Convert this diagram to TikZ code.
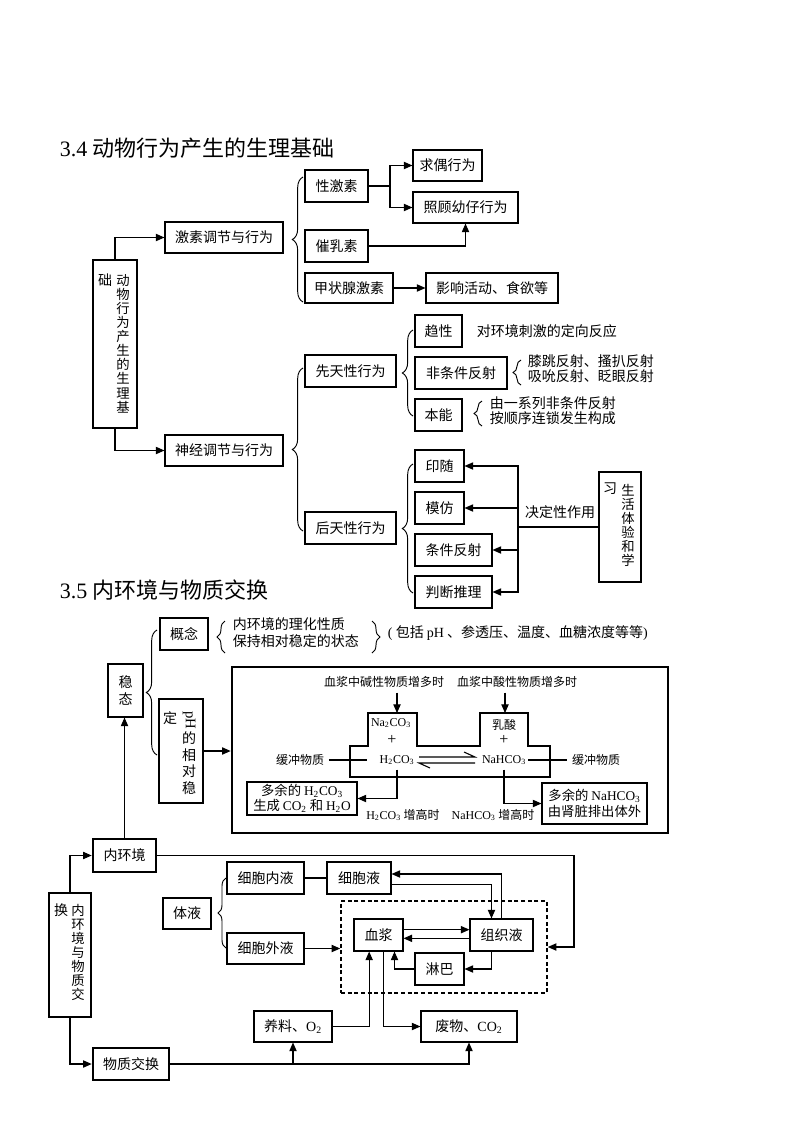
\documentclass[tikz,border=0pt]{standalone}
\usepackage{fontspec}
\setmainfont{Noto Sans CJK SC}
\newfontfamily\tnr{Liberation Serif}
\usepackage{tikz}
\usetikzlibrary{arrows.meta, decorations.pathreplacing}
\tikzset{
  font={\fontsize{10.5pt}{12pt}\selectfont},
  box/.style={draw, line width=0.8pt, inner sep=0pt, minimum height=24pt},
  tbox/.style={box, line width=2pt},
  dbox/.style={draw, line width=1.2pt, dash pattern=on 3pt off 2pt, inner sep=0pt},
  bw/.style={minimum width=#1*0.75pt},
  bh/.style={minimum height=#1*0.75pt},
  arr/.style={-{Triangle[length=6.5pt,width=5.5pt]}, line width=0.8pt},
  brc/.style={decorate, decoration={brace, amplitude=#1}, line width=0.7pt},
  brc/.default=7pt,
  sm/.style={font={\fontsize{9pt}{11pt}\selectfont}},
  vcol/.style={align=center, inner sep=0pt, font={\fontsize{10pt}{10.6pt}\selectfont}},
  ttl/.style={anchor=west, font={\fontsize{16.5pt}{18pt}\selectfont}},
}

\begin{document}
\begin{tikzpicture}[x=0.75pt, y=-0.75pt, line width=0.8pt]
\useasboundingbox (0,0) rectangle (800,1132);

% 3.4
\node[ttl] (t34) at (55,148) {{\tnr 3.4} 动物行为产生的生理基础};
\node[tbox, bw=44, bh=168] (dw) at (115,344) {};
\node at (105,280) {础};
\node[vcol] at (123,343.5) {动\\物\\行\\为\\产\\生\\的\\生\\理\\基};
\node[box, bw=118, bh=31] (jstj) at (224,237.5) {激素调节与行为};
\node[box, bw=118, bh=31] (sjtj) at (224,450.5) {神经调节与行为};
\draw[arr] (dw.north) |- (jstj.west);
\draw[arr] (dw.south) |- (sjtj.west);

% hormones
\node[box, bw=63] (xjs) at (336.5,186) {性激素};
\node[box, bw=63] (cns) at (336.5,246) {催乳素};
\node[box, bw=88, bh=30] (jzx) at (349,288) {甲状腺激素};
\node[box, bw=69, bh=31] (qo) at (447.5,165.5) {求偶行为};
\node[box, bw=105, bh=31] (zg) at (465.5,207.5) {照顾幼仔行为};
\node[box, bw=132, bh=30] (yx) at (492,288) {影响活动、食欲等};
\draw[brc=8pt] (303,302) -- (303,177);
\coordinate (xjsr) at (390,186);
\draw (xjs.east) -- (xjsr);
\draw[arr] (xjsr) |- (qo.west);
\draw[arr] (xjsr) |- (zg.west);
\draw[arr] (cns.east) -| (zg.south);
\draw[arr] (jzx) -- (yx);

% innate behaviour
\node[box, bw=91] (xt) at (350.5,371) {先天性行为};
\node[box, bw=91] (ht) at (350.5,528) {后天性行为};
\draw[brc=8pt] (303,531) -- (303,368);
\node[box, bw=47] (qx) at (438.5,331) {趋性};
\node[box, bw=92] (ftj) at (461,373) {非条件反射};
\node[box, bw=47] (bn) at (438.5,415) {本能};
\draw[brc=8pt] (413,416) -- (413,330);
\node[anchor=west] at (472,331) {对环境刺激的定向反应};
\draw[brc=6pt] (521,385) -- (521,360);
\node[anchor=west, align=left, font={\fontsize{10.5pt}{11.5pt}\selectfont}] at (523,369) {膝跳反射、搔扒反射\\吸吮反射、眨眼反射};
\draw[brc=6pt] (482,426) -- (482,401);
\node[anchor=west, align=left, font={\fontsize{10.5pt}{11.5pt}\selectfont}] at (485,411) {由一系列非条件反射\\按顺序连锁发生构成};

% acquired behaviour
\node[box, bw=49] (ys) at (439.5,466) {印随};
\node[box, bw=49] (mf) at (439.5,508) {模仿};
\node[box, bw=77] (tj) at (453.5,550) {条件反射};
\node[box, bw=77] (pd) at (453.5,592) {判断推理};
\draw[brc=8pt] (413,593) -- (413,464);
\node[box, bw=42, bh=110] (sh) at (620,527) {};
\node at (610,489) {习};
\node[vcol] at (628,525.5) {生\\活\\体\\验\\和\\学};
\coordinate (jd) at (518,527);
\draw (sh.west) -- (jd);
\draw[arr] (jd) |- (ys.east);
\draw[arr] (jd) |- (mf.east);
\draw[arr] (jd) |- (tj.east);
\draw[arr] (jd) |- (pd.east);
\node at (560,512) {决定性作用};

% 3.5
\node[ttl] (t35) at (55,590) {{\tnr 3.5} 内环境与物质交换};
\node[box, bw=48] (gn) at (184,634) {概念};
\draw[brc=6pt] (225,653) -- (225,621);
\node[anchor=west, align=left, font={\fontsize{10.5pt}{12.75pt}\selectfont}] (gnt) at (228,632.5) {内环境的理化性质\\保持相对稳定的状态};
\draw[brc=6pt] (372,621) -- (372,653);
\node[anchor=west] at (383,633) {{\tnr (} 包括 {\tnr pH} 、参透压、温度、血糖浓度等等{\tnr )}};
\node[box, bw=35, bh=53, align=center, font={\fontsize{10.5pt}{12.75pt}\selectfont}] (wt) at (125.5,690.5) {稳\\态};
\draw[brc=8pt] (157,755) -- (157,630);
\node[tbox, bw=44, bh=104] (ph) at (181,751) {};
\node at (170,718) {定};
\node[rotate=-90, font={\fontsize{11pt}{12pt}\selectfont\tnr}] at (189,720) {pH};
\node[vcol, font={\fontsize{10.5pt}{12.5pt}\selectfont}] at (189,763) {的\\相\\对\\稳};
\node[tbox, bw=436, bh=166] (hc) at (450,750) {};
\draw[arr] (ph.east) -- (ph.east -| hc.west);

% buffer pair
\node[sm] (jx) at (384,682) {血浆中碱性物质增多时};
\node[sm] (sx) at (517,682) {血浆中酸性物质增多时};
\draw (350,777) -- (350,746) -- (368,746) -- (368,713) -- (417,713) -- (417,746) -- (480,746)
  -- (480,713) -- (528,713) -- (528,746) -- (550,746) -- (550,777) -- cycle;
\node[sm] (nco) at (391,723) {\tnr Na\textsubscript{2}CO\textsubscript{3}};
\node[font={\fontsize{12pt}{12pt}\selectfont\tnr}] at (392,740) {+};
\node[sm] (hco) at (397,760) {\tnr H\textsubscript{2}CO\textsubscript{3}};
\node[sm] (ls) at (504,725) {乳酸};
\node[font={\fontsize{12pt}{12pt}\selectfont\tnr}] at (504,740) {+};
\node[sm] (nahco) at (504,760) {\tnr NaHCO\textsubscript{3}};
\coordinate (ltop) at (397,713);
\coordinate (rtop) at (505,713);
\draw[arr] (jx.south -| ltop) -- (ltop);
\draw[arr] (sx.south -| rtop) -- (rtop);
\draw (419,757) -- (475,757) -- (464,752);
\draw (475,763) -- (419,763) -- (430,768);
\node[sm] (hl) at (300,760) {缓冲物质};
\node[sm] (hr) at (596,760) {缓冲物质};
\draw (hl.east) -- (367,760);
\draw (528,760) -- (hr.west);
\node[box, bw=110, bh=33, align=center, font={\fontsize{10pt}{11.25pt}\selectfont}] (dy1) at (302,798.5)
  {多余的 {\tnr H\textsubscript{2}CO\textsubscript{3}}\\生成 {\tnr CO\textsubscript{2}} 和 {\tnr H\textsubscript{2}O}};
\node[box, bw=105, bh=41, align=center, font={\fontsize{10pt}{12pt}\selectfont}] (dy2) at (594.5,803.5)
  {多余的 {\tnr NaHCO\textsubscript{3}}\\由肾脏排出体外};
\draw[arr] (hco.south) |- (dy1.east);
\draw[arr] (nahco.south) |- (dy2.west);
\node[sm] at (403,815) {{\tnr H\textsubscript{2}CO\textsubscript{3}} 增高时};
\node[sm] at (493,815) {{\tnr NaHCO\textsubscript{3}} 增高时};

% body fluids
\node[tbox, bw=42, bh=124] (nw) at (70,955) {};
\node at (61,910) {换};
\node[vcol] at (78,952.5) {内\\环\\境\\与\\物\\质\\交};
\node[tbox, bw=63, bh=33] (nhj) at (124.5,855.5) {内环境};
\node[tbox, bw=76] (wzjh) at (131,1064) {物质交换};
\draw[arr] (nw.north) |- (nhj.west);
\draw[arr] (nw.south) |- (wzjh.west);
\draw[arr] (nhj.north) -- (nhj.north |- wt.south);
\node[box, bw=48, bh=31] (ty) at (187,913.5) {体液};
\node[box, bw=77] (xbn) at (265.5,878) {细胞内液};
\node[box, bw=77, bh=31] (xbw) at (265.5,948.5) {细胞外液};
\draw[brc=6pt] (226,948) -- (226,878);
\node[box, bw=64] (xby) at (359,878) {细胞液};
\draw (xbn) -- (xby);
\node[dbox, bw=206, bh=92] (db) at (444,947) {};
\node[box, bw=49] (xj) at (378.5,935) {血浆};
\node[box, bw=63] (zzy) at (501.5,935) {组织液};
\node[box, bw=49] (lb) at (439.5,969) {淋巴};
\draw[arr] (xbw) -- (xbw -| db.west);
\coordinate (nr) at (574,855.5);
\draw[arr] (nhj.east) -- (nr) |- (db.east);
\draw[arr] ([yshift=-5pt]xby.east) -| ([xshift=-7.5pt]zzy.north);
\draw[arr] (zzy.north) |- ([yshift=3pt]xby.east);
\draw[arr] ([yshift=4pt]xj.east) -- ([yshift=4pt]zzy.west);
\draw[arr] ([yshift=-2.5pt]zzy.west) -- ([yshift=-2.5pt]xj.east);
\draw[arr] ([xshift=-7.5pt]zzy.south) |- (lb.east);
\draw[arr] (lb.west) -| ([xshift=12pt]xj.south);
\node[box, bw=78, bh=31] (yl) at (293,1026.5) {养料、{\tnr O\textsubscript{2}}};
\node[box, bw=96, bh=31] (fw) at (469,1026.5) {废物、{\tnr CO\textsubscript{2}}};
\draw[arr] (yl.east) -| ([xshift=-7pt]xj.south);
\draw[arr] ([xshift=3.5pt]xj.south) |- (fw.west);
\draw[arr] (wzjh.east) -| (fw.south);
\draw[arr] (yl.south |- wzjh.east) -- (yl.south);
\end{tikzpicture}
\end{document}
